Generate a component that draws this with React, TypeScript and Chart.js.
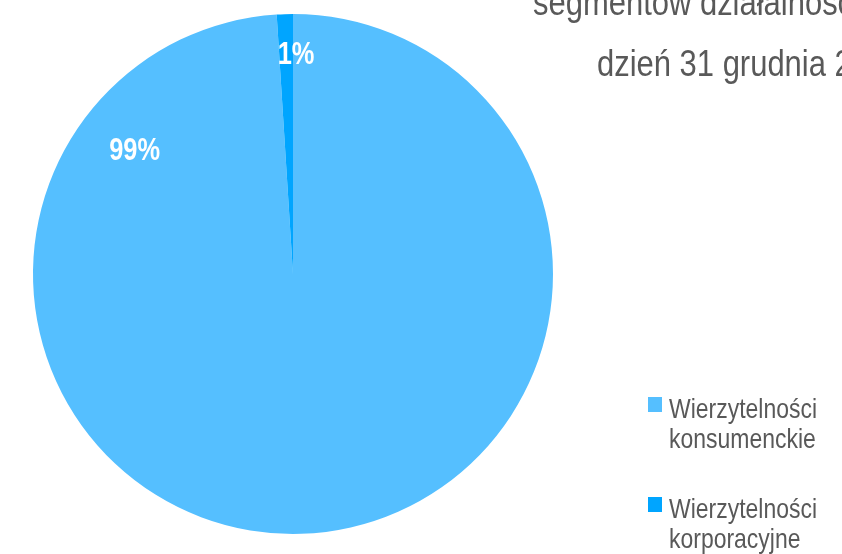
import React, { useEffect, useRef } from "react";
import { Chart, registerables } from "chart.js";

Chart.register(...registerables);

const categories: string[][] = [
  ["Wierzytelności", "konsumenckie"],
  ["Wierzytelności", "korporacyjne"],
];
const shares: number[] = [99, 1];
const valueLabels: string[] = ["99%", "1%"];
const sliceColors: string[] = ["#55BFFF", "#00A5FF"];
const titleLines: string[] = [
  "Struktura portfela wierzytelności w podziale na",
  "segmentów działalności na",
  "dzień 31 grudnia 2021 r.",
];

const FONT = "'Liberation Sans', Arial, sans-serif";
const NARROW = 0.82;
const TITLE_NARROW = 0.86;
const GRAY = "#595959";

// label anchors: clockwise degrees from 12 o'clock, fraction of radius
const labelAngles: number[] = [307.7, 0.8];
const labelRadii: number[] = [0.77, 0.84];

function narrowText(ctx: CanvasRenderingContext2D, t: string, x: number, y: number, s: number = NARROW) {
  ctx.save();
  ctx.translate(x, y);
  ctx.scale(s, 1);
  ctx.fillText(t, 0, 0);
  ctx.restore();
}

const overlayPlugin = {
  id: "overlay",
  afterDatasetsDraw(chart: any) {
    const ctx = chart.ctx as CanvasRenderingContext2D;
    const meta = chart.getDatasetMeta(0);
    const arc0 = meta.data[0];
    if (!arc0) return;
    const { x: cx, y: cy, outerRadius } = arc0.getProps(["x", "y", "outerRadius"], true);
    ctx.save();
    // value labels
    ctx.fillStyle = "#ffffff";
    ctx.font = `bold 31px ${FONT}`;
    ctx.textAlign = "center";
    ctx.textBaseline = "middle";
    valueLabels.forEach((t, i) => {
      const a = (labelAngles[i] * Math.PI) / 180;
      const r = outerRadius * labelRadii[i];
      narrowText(ctx, t, cx + r * Math.sin(a), cy - r * Math.cos(a));
    });
    // title (clipped in original)
    ctx.fillStyle = GRAY;
    ctx.font = `36px ${FONT}`;
    ctx.textAlign = "left";
    ctx.textBaseline = "alphabetic";
    const titleX = [470, 533, 597];
    titleLines.forEach((t, i) => {
      narrowText(ctx, t, titleX[i], 15 + (i - 1) * 61, TITLE_NARROW);
    });
    // legend
    const labels = chart.data.labels as string[][];
    const colors = chart.data.datasets[0].backgroundColor as string[];
    ctx.font = `28px ${FONT}`;
    labels.forEach((lines, i) => {
      const base = 418 + i * 100;
      ctx.fillStyle = colors[i];
      ctx.fillRect(648, base - 21, 14, 15);
      ctx.fillStyle = GRAY;
      lines.forEach((ln, j) => {
        narrowText(ctx, ln, 669, base + j * 30);
      });
    });
    ctx.restore();
  },
};

export default function App() {
  const ref = useRef<HTMLCanvasElement | null>(null);
  useEffect(() => {
    document.body.style.margin = "0";
    if (!ref.current) return;
    const chart = new Chart(ref.current, {
      type: "pie",
      data: {
        labels: categories as any,
        datasets: [
          {
            data: shares,
            backgroundColor: sliceColors,
            borderWidth: 0,
          },
        ],
      },
      options: {
        animation: false,
        responsive: true,
        maintainAspectRatio: false,
        layout: { padding: { left: 33, top: 14, right: 289, bottom: 20 } },
        plugins: {
          legend: { display: false },
          tooltip: { enabled: false },
          title: { display: false },
        },
      },
      plugins: [overlayPlugin],
    });
    return () => chart.destroy();
  }, []);
  return (
    <div style={{ position: "absolute", left: 0, top: 0, width: 842, height: 554, overflow: "hidden", background: "#ffffff" }}>
      <canvas ref={ref} />
    </div>
  );
}
